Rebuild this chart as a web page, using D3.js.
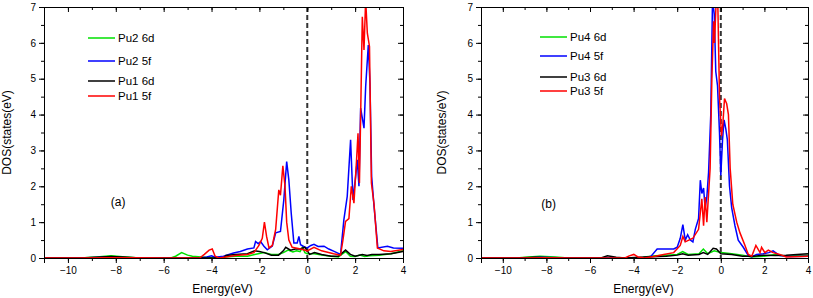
<!DOCTYPE html>
<html>
<head>
<meta charset="utf-8">
<script src="https://cdn.jsdelivr.net/npm/d3@7"></script>
<style>
  body { margin: 0; background: #fff; }
  text { font-family: "Liberation Sans", Arial, sans-serif; }
</style>
</head>
<body>
<div id="chart"></div>
<script>
// x ticks and y ticks
var xTicks = [-10, -8, -6, -4, -2, 0, 2, 4];
var yTicks = [0, 1, 2, 3, 4, 5, 6, 7];

// panel (a) series, [energy, dos]
var pu2_6d = [[-11,0],[-9.5,0],[-8.8,0.03],[-8.2,0.06],[-7.6,0.03],[-7,0],[-5.7,0],[-5.5,0.05],[-5.25,0.15],[-5.0,0.08],[-4.8,0.05],[-4.3,0.02],[-3.9,0],[-3.5,0.03],[-3,0.05],[-2.5,0.05],[-2.2,0.1],[-1.8,0.15],[-1.5,0.1],[-1.2,0.1],[-1.0,0.15],[-0.8,0.22],[-0.6,0.17],[-0.45,0.2],[-0.3,0.18],[-0.2,0.3],[-0.1,0.15],[0,0.12],[0.3,0.12],[0.6,0.08],[1.0,0.05],[1.3,0.03],[1.6,0.18],[1.8,0.05],[2.0,0.04],[2.2,0.08],[2.4,0.04],[2.6,0.06],[3.0,0.08],[3.5,0.12],[4,0.2]];
var pu2_5f = [[-11,0],[-9.5,0],[-8.5,0.02],[-7.5,0.01],[-6,0],[-4.5,0],[-4.2,0.03],[-4.0,0.06],[-3.85,0.02],[-3.5,0.05],[-3.08,0.14],[-2.8,0.18],[-2.5,0.25],[-2.23,0.28],[-2.16,0.46],[-2.05,0.4],[-1.95,0.46],[-1.81,0.33],[-1.67,0.23],[-1.46,0.33],[-1.32,0.7],[-1.12,0.74],[-0.98,1.62],[-0.86,2.69],[-0.77,2.18],[-0.67,1.25],[-0.56,0.42],[-0.42,0.42],[-0.35,0.6],[-0.28,0.37],[-0.1,0.3],[0,0.28],[0.15,0.35],[0.28,0.38],[0.45,0.32],[0.7,0.33],[0.9,0.25],[1.1,0.19],[1.39,0.1],[1.53,1.07],[1.67,1.72],[1.81,3.3],[1.91,1.62],[2.02,2.27],[2.09,2.74],[2.16,2.0],[2.23,4.18],[2.37,3.62],[2.44,4.78],[2.55,5.94],[2.62,4.87],[2.69,2.27],[2.79,1.44],[2.95,0.28],[3.35,0.33],[3.6,0.28],[4,0.27]];
var pu1_6d = [[-11,0],[-9.5,0],[-8.8,0.02],[-8.2,0.04],[-7.5,0.02],[-7,0],[-3.5,0],[-3.4,0.07],[-3.0,0.1],[-2.5,0.12],[-2.2,0.2],[-2.0,0.18],[-1.8,0.15],[-1.5,0.08],[-1.2,0.08],[-1.0,0.2],[-0.9,0.3],[-0.7,0.22],[-0.5,0.25],[-0.3,0.25],[-0.1,0.3],[0.1,0.1],[0.3,0.15],[0.6,0.1],[1.0,0.05],[1.3,0.05],[1.6,0.22],[1.8,0.1],[2.0,0.05],[2.3,0.1],[2.5,0.07],[2.7,0.1],[3.0,0.1],[3.5,0.12],[4,0.18]];
var pu1_5f = [[-11,0],[-9.5,0],[-8.5,0.01],[-7.5,0.01],[-6,0],[-4.5,0],[-4.3,0.1],[-4.1,0.22],[-3.97,0.25],[-3.85,0.05],[-3.7,0],[-3.4,0.03],[-3.0,0.07],[-2.5,0.1],[-2.23,0.15],[-2.02,0.35],[-1.88,0.55],[-1.79,1.0],[-1.70,0.6],[-1.6,0.28],[-1.46,0.35],[-1.32,0.8],[-1.19,1.9],[-1.12,1.75],[-1.02,2.57],[-0.93,2.0],[-0.86,1.0],[-0.77,0.5],[-0.63,0.3],[-0.28,0.25],[0,0.2],[0.28,0.3],[0.6,0.2],[1.1,0.12],[1.39,0.08],[1.49,0.5],[1.6,1.02],[1.74,1.1],[1.84,2.0],[1.95,1.53],[2.06,2.74],[2.12,3.48],[2.18,2.09],[2.23,3.95],[2.3,6.73],[2.37,5.8],[2.44,7.2],[2.51,6.27],[2.6,5.9],[2.68,2.09],[2.79,1.5],[2.93,0.28],[3.2,0.2],[3.49,0.18],[4,0.24]];

// panel (b) series
var pu4_6d = [[-11,0],[-9.4,0],[-8.8,0.03],[-8.3,0.05],[-7.6,0.03],[-7,0],[-3.6,0],[-3.5,0.03],[-3,0.06],[-2.5,0.08],[-2.0,0.1],[-1.75,0.18],[-1.5,0.1],[-1.0,0.12],[-0.8,0.25],[-0.6,0.12],[-0.3,0.2],[0,0.15],[0.5,0.12],[1.0,0.08],[1.4,0.03],[2.0,0.05],[2.5,0.1],[3.0,0.05],[4,0.08]];
var pu4_5f = [[-11,0],[-9,0],[-8.3,0.02],[-7,0],[-3.5,0],[-3.2,0.05],[-2.92,0.25],[-2.5,0.25],[-2.16,0.25],[-2.0,0.3],[-1.86,0.55],[-1.74,0.93],[-1.63,0.5],[-1.52,0.65],[-1.4,0.5],[-1.28,0.45],[-1.17,0.8],[-1.02,1.1],[-0.94,2.17],[-0.87,1.8],[-0.79,1.95],[-0.72,1.4],[-0.64,1.7],[-0.56,2.4],[-0.46,4.0],[-0.38,7.2],[-0.3,6.8],[-0.23,5.2],[-0.15,4.8],[-0.06,3.5],[0,2.3],[0.08,3.3],[0.15,3.85],[0.23,3.6],[0.3,3.3],[0.4,2.0],[0.5,1.4],[0.65,0.9],[0.8,0.5],[1.03,0.3],[1.26,0.07],[1.42,0.03],[1.64,0.1],[1.95,0.12],[2.2,0.15],[2.4,0.2],[2.7,0.07],[3.2,0.04],[4,0.05]];
var pu3_6d = [[-11,0],[-9.4,0],[-8.5,0.02],[-7.5,0],[-5.5,0],[-5.2,0.06],[-4.8,0.02],[-4.4,0],[-3.5,0.03],[-2.5,0.05],[-2.0,0.08],[-1.75,0.12],[-1.5,0.08],[-1.0,0.1],[-0.8,0.15],[-0.6,0.1],[-0.35,0.27],[-0.2,0.25],[0,0.12],[0.5,0.1],[1.0,0.05],[1.5,0.05],[2.0,0.08],[2.5,0.07],[3.0,0.08],[3.5,0.1],[4,0.12]];
var pu3_5f = [[-11,0],[-9,0],[-8,0.01],[-7,0],[-4.4,0],[-4.2,0.06],[-3.99,0.1],[-3.8,0.03],[-3.5,0],[-3.0,0.05],[-2.62,0.1],[-2.16,0.15],[-1.86,0.35],[-1.74,0.6],[-1.63,0.45],[-1.28,0.55],[-1.02,0.8],[-0.87,1.65],[-0.79,0.9],[-0.72,1.7],[-0.64,1.0],[-0.49,2.5],[-0.41,5.0],[-0.33,6.6],[-0.29,6.0],[-0.21,7.2],[-0.14,7.2],[-0.06,4.5],[0.03,3.4],[0.09,3.7],[0.17,4.45],[0.27,4.3],[0.35,4.0],[0.43,2.5],[0.55,1.5],[0.73,1.0],[0.88,0.7],[1.11,0.35],[1.26,0.1],[1.42,0.05],[1.61,0.35],[1.8,0.15],[1.87,0.3],[2.02,0.15],[2.18,0.22],[2.4,0.15],[2.7,0.1],[3.0,0.03],[4,0.05]];

var panels = [
  {left: 44, right: 403, top: 7, bottom: 258, tag: "(a)", tagX: -7.9, tagY: 1.45,
   ylabel: "DOS(states(eV)", ylabelX: 11,
   series: [
     {name: "Pu2 6d", data: pu2_6d, color: "#00e000"},
     {name: "Pu2 5f", data: pu2_5f, color: "#0000ff"},
     {name: "Pu1 6d", data: pu1_6d, color: "#000000"},
     {name: "Pu1 5f", data: pu1_5f, color: "#ff0000"}],
   legX: 88, legY: [38, 61, 81, 96]},
  {left: 481, right: 808, top: 7, bottom: 258, tag: "(b)", tagX: -7.9, tagY: 1.4,
   ylabel: "DOS(states/eV)", ylabelX: 446,
   series: [
     {name: "Pu4 6d", data: pu4_6d, color: "#00e000"},
     {name: "Pu4 5f", data: pu4_5f, color: "#0000ff"},
     {name: "Pu3 6d", data: pu3_6d, color: "#000000"},
     {name: "Pu3 5f", data: pu3_5f, color: "#ff0000"}],
   legX: 540, legY: [37, 56, 77, 91]}
];

var svg = d3.select("#chart").append("svg")
    .attr("width", 813)
    .attr("height", 298);

var drawOrder = [0, 1, 2, 3];

panels.forEach(function (p, i) {
    var x = d3.scaleLinear().domain([-11, 4]).range([p.left, p.right]);
    var y = d3.scaleLinear().domain([0, 7]).range([p.bottom, p.top]);
    var g = svg.append("g");

    g.append("clipPath").attr("id", "clip" + i)
        .append("rect")
        .attr("x", p.left).attr("y", p.top)
        .attr("width", p.right - p.left).attr("height", p.bottom - p.top);

    var line = d3.line()
        .x(function (d) { return x(d[0]); })
        .y(function (d) { return y(d[1]); });

    // fermi level
    g.append("line")
        .attr("x1", x(0)).attr("x2", x(0))
        .attr("y1", y(7)).attr("y2", y(0))
        .attr("stroke", "#333")
        .attr("stroke-width", 2)
        .attr("stroke-dasharray", "5,3");

    drawOrder.forEach(function (k) {
        var s = p.series[k];
        g.append("path")
            .datum(s.data)
            .attr("clip-path", "url(#clip" + i + ")")
            .attr("fill", "none")
            .attr("stroke", s.color)
            .attr("stroke-width", 1.5)
            .attr("d", line);
    });

    // axes
    var minorX = d3.range(-11, 4.01, 1);
    var minorY = d3.range(0, 7.01, 0.5);
    var fmt = d3.format("d");

    g.append("g").attr("transform", "translate(0," + p.bottom + ")")
        .call(d3.axisBottom(x).tickValues(xTicks).tickSize(5).tickPadding(4).tickFormat(fmt));
    g.append("g").attr("transform", "translate(0," + p.bottom + ")")
        .call(d3.axisBottom(x).tickValues(minorX).tickSize(3).tickFormat(""));

    g.append("g").attr("transform", "translate(" + p.left + ",0)")
        .call(d3.axisLeft(y).tickValues(yTicks).tickSize(5).tickPadding(3).tickFormat(fmt));
    g.append("g").attr("transform", "translate(" + p.left + ",0)")
        .call(d3.axisLeft(y).tickValues(minorY).tickSize(3).tickFormat(""));

    g.append("g").attr("transform", "translate(0," + p.top + ")")
        .call(d3.axisBottom(x).tickValues(xTicks).tickSize(5).tickFormat(""));
    g.append("g").attr("transform", "translate(0," + p.top + ")")
        .call(d3.axisBottom(x).tickValues(minorX).tickSize(3).tickFormat(""));

    g.append("g").attr("transform", "translate(" + p.right + ",0)")
        .call(d3.axisLeft(y).tickValues(yTicks).tickSize(5).tickFormat(""));
    g.append("g").attr("transform", "translate(" + p.right + ",0)")
        .call(d3.axisLeft(y).tickValues(minorY).tickSize(3).tickFormat(""));

    g.selectAll(".domain").attr("stroke", "#000").attr("stroke-width", 1);
    g.selectAll(".tick line").attr("stroke", "#000");
    g.selectAll(".tick text").attr("font-size", 10).attr("fill", "#000")
        .style("font-family", "'Liberation Sans', Arial, sans-serif");

    // titles
    g.append("text")
        .attr("x", (p.left + p.right) / 2 - 1)
        .attr("y", 293)
        .attr("text-anchor", "middle")
        .attr("font-size", 12)
        .text("Energy(eV)");

    g.append("text")
        .attr("transform", "translate(" + p.ylabelX + "," + ((p.top + p.bottom) / 2) + ") rotate(-90)")
        .attr("text-anchor", "middle")
        .attr("font-size", 12)
        .text(p.ylabel);

    g.append("text")
        .attr("x", x(p.tagX)).attr("y", y(p.tagY))
        .attr("text-anchor", "middle")
        .attr("font-size", 12)
        .text(p.tag);

    // legend
    p.series.forEach(function (s, k) {
        g.append("line")
            .attr("x1", p.legX).attr("x2", p.legX + 27)
            .attr("y1", p.legY[k]).attr("y2", p.legY[k])
            .attr("stroke", s.color).attr("stroke-width", 1.5);
        g.append("text")
            .attr("x", p.legX + 30).attr("y", p.legY[k] + 4)
            .attr("font-size", 11.5)
            .text(s.name);
    });
});
</script>
</body>
</html>
